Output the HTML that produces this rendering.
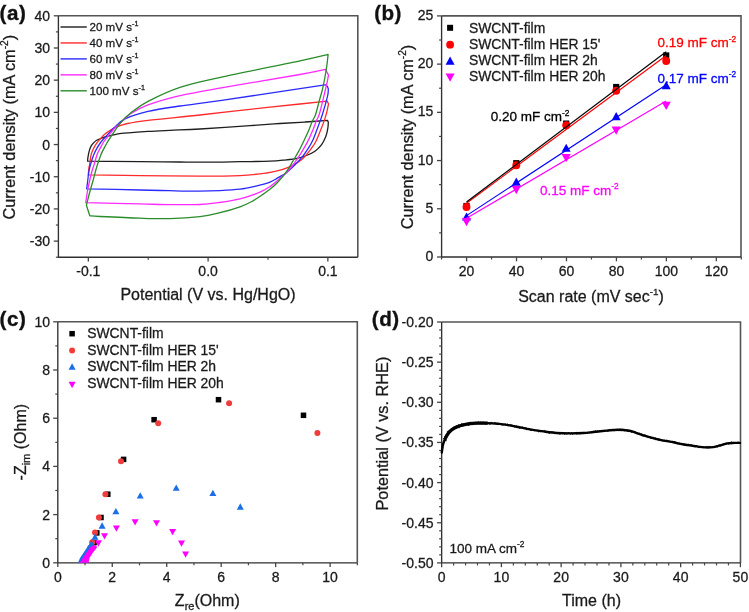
<!DOCTYPE html>
<html><head><meta charset="utf-8"><style>
html,body{margin:0;padding:0;background:#fff;overflow:hidden;}
svg{display:block;font-family:"Liberation Sans", sans-serif;will-change:transform;}
</style></head><body>
<svg width="749" height="612" viewBox="0 0 749 612">
<rect width="749" height="612" fill="#fff"/>
<text x="-0.4" y="20.2" font-size="20.6" font-weight="bold" letter-spacing="0.5" fill="#111" stroke="#111" stroke-width="0.35">(a)</text>
<path d="M58.4,15.8 H357.8 V257.2" fill="none" stroke="#555" stroke-width="1.6"/>
<path d="M58.4,15.8 V257.2 H357.8" fill="none" stroke="#303030" stroke-width="1.35"/>
<line x1="53.8" y1="15.80" x2="58.4" y2="15.80" stroke="#444444" stroke-width="1.3"/>
<line x1="53.8" y1="47.99" x2="58.4" y2="47.99" stroke="#444444" stroke-width="1.3"/>
<line x1="53.8" y1="80.17" x2="58.4" y2="80.17" stroke="#444444" stroke-width="1.3"/>
<line x1="53.8" y1="112.36" x2="58.4" y2="112.36" stroke="#444444" stroke-width="1.3"/>
<line x1="53.8" y1="144.55" x2="58.4" y2="144.55" stroke="#444444" stroke-width="1.3"/>
<line x1="53.8" y1="176.74" x2="58.4" y2="176.74" stroke="#444444" stroke-width="1.3"/>
<line x1="53.8" y1="208.92" x2="58.4" y2="208.92" stroke="#444444" stroke-width="1.3"/>
<line x1="53.8" y1="241.11" x2="58.4" y2="241.11" stroke="#444444" stroke-width="1.3"/>
<line x1="55.9" y1="31.89" x2="58.4" y2="31.89" stroke="#444444" stroke-width="1.2"/>
<line x1="55.9" y1="64.08" x2="58.4" y2="64.08" stroke="#444444" stroke-width="1.2"/>
<line x1="55.9" y1="96.27" x2="58.4" y2="96.27" stroke="#444444" stroke-width="1.2"/>
<line x1="55.9" y1="128.45" x2="58.4" y2="128.45" stroke="#444444" stroke-width="1.2"/>
<line x1="55.9" y1="160.64" x2="58.4" y2="160.64" stroke="#444444" stroke-width="1.2"/>
<line x1="55.9" y1="192.83" x2="58.4" y2="192.83" stroke="#444444" stroke-width="1.2"/>
<line x1="55.9" y1="225.02" x2="58.4" y2="225.02" stroke="#444444" stroke-width="1.2"/>
<line x1="55.9" y1="257.20" x2="58.4" y2="257.20" stroke="#444444" stroke-width="1.2"/>
<text x="50" y="20.84" font-size="14" text-anchor="end" fill="#1a1a1a" stroke="#1a1a1a" stroke-width="0.28">40</text>
<text x="50" y="53.03" font-size="14" text-anchor="end" fill="#1a1a1a" stroke="#1a1a1a" stroke-width="0.28">30</text>
<text x="50" y="85.21" font-size="14" text-anchor="end" fill="#1a1a1a" stroke="#1a1a1a" stroke-width="0.28">20</text>
<text x="50" y="117.40" font-size="14" text-anchor="end" fill="#1a1a1a" stroke="#1a1a1a" stroke-width="0.28">10</text>
<text x="50" y="149.59" font-size="14" text-anchor="end" fill="#1a1a1a" stroke="#1a1a1a" stroke-width="0.28">0</text>
<text x="50" y="181.78" font-size="14" text-anchor="end" fill="#1a1a1a" stroke="#1a1a1a" stroke-width="0.28">-10</text>
<text x="50" y="213.96" font-size="14" text-anchor="end" fill="#1a1a1a" stroke="#1a1a1a" stroke-width="0.28">-20</text>
<text x="50" y="246.15" font-size="14" text-anchor="end" fill="#1a1a1a" stroke="#1a1a1a" stroke-width="0.28">-30</text>
<line x1="88.34" y1="257.2" x2="88.34" y2="261.5" stroke="#444444" stroke-width="1.3"/>
<line x1="208.10" y1="257.2" x2="208.10" y2="261.5" stroke="#444444" stroke-width="1.3"/>
<line x1="327.86" y1="257.2" x2="327.86" y2="261.5" stroke="#444444" stroke-width="1.3"/>
<line x1="148.22" y1="257.2" x2="148.22" y2="259.7" stroke="#444444" stroke-width="1.2"/>
<line x1="267.98" y1="257.2" x2="267.98" y2="259.7" stroke="#444444" stroke-width="1.2"/>
<text x="88.34" y="275.8" font-size="14" text-anchor="middle" fill="#1a1a1a" stroke="#1a1a1a" stroke-width="0.28">-0.1</text>
<text x="208.10" y="275.8" font-size="14" text-anchor="middle" fill="#1a1a1a" stroke="#1a1a1a" stroke-width="0.28">0.0</text>
<text x="327.86" y="275.8" font-size="14" text-anchor="middle" fill="#1a1a1a" stroke="#1a1a1a" stroke-width="0.28">0.1</text>
<text transform="translate(15.2,127.2) rotate(-90)" font-size="16.3" text-anchor="middle" fill="#1a1a1a" stroke="#1a1a1a" stroke-width="0.28">Current density (mA cm<tspan font-size="10.1" dy="-6.8">-2</tspan><tspan dy="6.8">)</tspan></text>
<text x="208" y="300.1" font-size="16" text-anchor="middle" fill="#1a1a1a" stroke="#1a1a1a" stroke-width="0.28">Potential (V vs. Hg/HgO)</text>
<path d="M87.60,161.20 C87.65,160.62 87.63,159.38 87.90,157.70 C88.17,156.02 88.65,153.07 89.20,151.10 C89.75,149.13 90.43,147.32 91.20,145.90 C91.97,144.48 92.82,143.58 93.80,142.60 C94.78,141.62 95.90,140.70 97.10,140.00 C98.30,139.30 99.37,139.00 101.00,138.40 C102.63,137.80 104.83,137.00 106.90,136.40 C108.97,135.80 110.55,135.33 113.40,134.80 C116.25,134.27 118.23,133.77 124.00,133.20 C129.77,132.63 140.33,131.88 148.00,131.40 C155.67,130.92 161.33,130.70 170.00,130.30 C178.67,129.90 186.67,129.77 200.00,129.00 C213.33,128.23 236.67,126.62 250.00,125.70 C263.33,124.78 270.83,124.12 280.00,123.50 C289.17,122.88 297.08,122.52 305.00,122.00 C312.92,121.48 323.75,120.67 327.50,120.40 C327.63,120.68 328.17,121.82 328.30,122.10 C328.27,122.75 328.23,124.68 328.10,126.00 C327.97,127.32 327.88,128.23 327.50,130.00 C327.12,131.77 326.75,134.20 325.80,136.60 C324.85,139.00 323.55,142.00 321.80,144.40 C320.05,146.80 317.85,149.15 315.30,151.00 C312.75,152.85 309.72,154.22 306.50,155.50 C303.28,156.78 299.37,157.98 296.00,158.70 C292.63,159.42 290.63,159.38 286.30,159.80 C281.97,160.22 277.72,160.88 270.00,161.20 C262.28,161.52 249.00,161.53 240.00,161.70 C231.00,161.87 226.00,162.15 216.00,162.20 C206.00,162.25 192.67,162.08 180.00,162.00 C167.33,161.92 151.67,161.80 140.00,161.70 C128.33,161.60 118.73,161.48 110.00,161.40 C101.27,161.32 91.33,161.23 87.60,161.20" fill="none" stroke="#1e1e1e" stroke-width="1.3" stroke-linejoin="round" stroke-linecap="round"/>
<path d="M88.30,174.90 C88.40,173.75 88.68,169.73 88.90,168.00 C89.12,166.27 89.22,166.77 89.60,164.50 C89.98,162.23 90.50,157.17 91.20,154.40 C91.90,151.63 92.82,149.87 93.80,147.90 C94.78,145.93 95.90,144.23 97.10,142.60 C98.30,140.97 99.58,139.62 101.00,138.10 C102.42,136.58 103.35,135.22 105.60,133.50 C107.85,131.78 110.83,129.47 114.50,127.80 C118.17,126.13 122.02,124.75 127.60,123.50 C133.18,122.25 135.93,121.72 148.00,120.30 C160.07,118.88 183.00,116.83 200.00,115.00 C217.00,113.17 233.33,111.13 250.00,109.30 C266.67,107.47 287.13,105.37 300.00,104.00 C312.87,102.63 322.67,101.58 327.20,101.10 C327.42,101.60 328.28,103.60 328.50,104.10 C328.18,105.57 327.35,110.02 326.60,112.90 C325.85,115.78 324.93,118.68 324.00,121.40 C323.07,124.12 322.23,126.10 321.00,129.20 C319.77,132.30 317.88,137.25 316.60,140.00 C315.32,142.75 314.67,143.65 313.30,145.70 C311.93,147.75 310.17,150.12 308.40,152.30 C306.63,154.48 305.02,156.77 302.70,158.80 C300.38,160.83 297.23,162.93 294.50,164.50 C291.77,166.07 289.02,167.18 286.30,168.20 C283.58,169.22 281.47,169.80 278.20,170.60 C274.93,171.40 273.07,172.17 266.70,173.00 C260.33,173.83 251.12,175.07 240.00,175.60 C228.88,176.13 216.67,176.20 200.00,176.20 C183.33,176.20 158.62,175.82 140.00,175.60 C121.38,175.38 96.92,175.02 88.30,174.90" fill="none" stroke="#ff2a2a" stroke-width="1.3" stroke-linejoin="round" stroke-linecap="round"/>
<path d="M86.70,188.80 C86.88,187.33 87.45,182.80 87.80,180.00 C88.15,177.20 88.35,174.58 88.80,172.00 C89.25,169.42 89.67,167.43 90.50,164.50 C91.33,161.57 92.70,157.17 93.80,154.40 C94.90,151.63 95.90,149.97 97.10,147.90 C98.30,145.83 99.58,143.85 101.00,142.00 C102.42,140.15 103.33,139.27 105.60,136.80 C107.87,134.33 111.27,130.23 114.60,127.20 C117.93,124.17 120.03,121.23 125.60,118.60 C131.17,115.97 138.93,113.50 148.00,111.40 C157.07,109.30 168.00,107.80 180.00,106.00 C192.00,104.20 200.00,103.48 220.00,100.60 C240.00,97.72 282.42,91.32 300.00,88.70 C317.58,86.08 321.25,85.53 325.50,84.90 C325.82,85.13 326.93,85.62 327.40,86.30 C327.87,86.98 328.15,88.55 328.30,89.00 C328.25,89.83 328.35,91.93 328.00,94.00 C327.65,96.07 327.15,97.93 326.20,101.40 C325.25,104.87 323.33,111.47 322.30,114.80 C321.27,118.13 320.87,119.00 320.00,121.40 C319.13,123.80 318.28,126.10 317.10,129.20 C315.92,132.30 314.35,136.83 312.90,140.00 C311.45,143.17 310.10,145.48 308.40,148.20 C306.70,150.92 305.02,153.45 302.70,156.30 C300.38,159.15 297.23,162.57 294.50,165.30 C291.77,168.03 289.02,170.65 286.30,172.70 C283.58,174.75 280.92,176.03 278.20,177.60 C275.48,179.17 273.87,180.65 270.00,182.10 C266.13,183.55 260.00,185.12 255.00,186.30 C250.00,187.48 245.83,188.48 240.00,189.20 C234.17,189.92 226.83,190.28 220.00,190.60 C213.17,190.92 207.33,191.08 199.00,191.10 C190.67,191.12 179.83,190.88 170.00,190.70 C160.17,190.52 153.88,190.32 140.00,190.00 C126.12,189.68 95.58,189.00 86.70,188.80" fill="none" stroke="#2a2aff" stroke-width="1.3" stroke-linejoin="round" stroke-linecap="round"/>
<path d="M85.70,202.70 C86.03,200.58 87.02,193.78 87.70,190.00 C88.38,186.22 89.03,183.33 89.80,180.00 C90.57,176.67 91.55,172.67 92.30,170.00 C93.05,167.33 93.50,166.60 94.30,164.00 C95.10,161.40 96.10,157.08 97.10,154.40 C98.10,151.72 99.22,149.97 100.30,147.90 C101.38,145.83 102.40,143.85 103.60,142.00 C104.80,140.15 105.67,139.08 107.50,136.80 C109.33,134.52 112.33,130.70 114.60,128.30 C116.87,125.90 118.38,124.87 121.10,122.40 C123.82,119.93 126.42,116.42 130.90,113.50 C135.38,110.58 139.82,107.88 148.00,104.90 C156.18,101.92 167.55,98.48 180.00,95.60 C192.45,92.72 202.70,91.12 222.70,87.60 C242.70,84.08 282.87,77.53 300.00,74.50 C317.13,71.47 321.25,70.25 325.50,69.40 C326.00,70.35 328.00,74.15 328.50,75.10 C328.28,76.25 327.73,79.52 327.20,82.00 C326.67,84.48 326.07,86.77 325.30,90.00 C324.53,93.23 323.63,97.27 322.60,101.40 C321.57,105.53 320.18,111.47 319.10,114.80 C318.02,118.13 317.08,119.00 316.10,121.40 C315.12,123.80 314.62,125.83 313.20,129.20 C311.78,132.57 309.63,137.62 307.60,141.60 C305.57,145.58 303.18,149.55 301.00,153.10 C298.82,156.65 296.95,159.63 294.50,162.90 C292.05,166.17 289.02,169.85 286.30,172.70 C283.58,175.55 280.92,177.68 278.20,180.00 C275.48,182.32 273.03,184.58 270.00,186.60 C266.97,188.62 265.00,190.05 260.00,192.10 C255.00,194.15 247.00,197.13 240.00,198.90 C233.00,200.67 224.67,201.77 218.00,202.70 C211.33,203.63 208.00,204.18 200.00,204.50 C192.00,204.82 180.00,204.70 170.00,204.60 C160.00,204.50 154.05,204.22 140.00,203.90 C125.95,203.58 94.75,202.90 85.70,202.70" fill="none" stroke="#ff2aff" stroke-width="1.3" stroke-linejoin="round" stroke-linecap="round"/>
<path d="M86.40,205.30 C86.92,203.25 88.37,197.22 89.50,193.00 C90.63,188.78 92.00,184.33 93.20,180.00 C94.40,175.67 95.40,171.27 96.70,167.00 C98.00,162.73 99.73,157.58 101.00,154.40 C102.27,151.22 103.22,149.97 104.30,147.90 C105.38,145.83 106.42,143.85 107.50,142.00 C108.58,140.15 108.53,140.10 110.80,136.80 C113.07,133.50 117.75,126.22 121.10,122.20 C124.45,118.18 126.42,116.18 130.90,112.70 C135.38,109.22 139.82,105.53 148.00,101.30 C156.18,97.07 167.55,91.37 180.00,87.30 C192.45,83.23 202.70,81.32 222.70,76.90 C242.70,72.48 282.43,64.55 300.00,60.80 C317.57,57.05 323.42,55.47 328.10,54.40 C327.88,56.32 327.35,61.97 326.80,65.90 C326.25,69.83 325.55,73.98 324.80,78.00 C324.05,82.02 323.25,86.10 322.30,90.00 C321.35,93.90 320.23,97.27 319.10,101.40 C317.97,105.53 316.65,111.47 315.50,114.80 C314.35,118.13 313.25,119.00 312.20,121.40 C311.15,123.80 310.52,126.10 309.20,129.20 C307.88,132.30 306.07,136.30 304.30,140.00 C302.53,143.70 300.50,147.87 298.60,151.40 C296.70,154.93 294.95,157.78 292.90,161.20 C290.85,164.62 288.75,168.48 286.30,171.90 C283.85,175.32 280.78,178.92 278.20,181.70 C275.62,184.48 273.50,186.38 270.80,188.60 C268.10,190.82 264.90,193.00 262.00,195.00 C259.10,197.00 257.07,198.63 253.40,200.60 C249.73,202.57 245.90,204.70 240.00,206.80 C234.10,208.90 224.67,211.57 218.00,213.20 C211.33,214.83 208.00,215.70 200.00,216.60 C192.00,217.50 180.00,218.33 170.00,218.60 C160.00,218.87 151.67,218.55 140.00,218.20 C128.33,217.85 108.37,216.90 100.00,216.50 C91.63,216.10 91.50,215.92 89.80,215.80 C89.23,214.05 86.97,207.05 86.40,205.30" fill="none" stroke="#2a8c2a" stroke-width="1.3" stroke-linejoin="round" stroke-linecap="round"/>
<line x1="60.5" y1="27.00" x2="86.8" y2="27.00" stroke="#1e1e1e" stroke-width="1.4"/>
<text x="89.5" y="31.30" font-size="11.6" fill="#1a1a1a" stroke="#1a1a1a" stroke-width="0.28">20 mV s<tspan font-size="7.2" dy="-4.9">-1</tspan></text>
<line x1="60.5" y1="42.95" x2="86.8" y2="42.95" stroke="#ff2a2a" stroke-width="1.4"/>
<text x="89.5" y="47.25" font-size="11.6" fill="#1a1a1a" stroke="#1a1a1a" stroke-width="0.28">40 mV s<tspan font-size="7.2" dy="-4.9">-1</tspan></text>
<line x1="60.5" y1="58.90" x2="86.8" y2="58.90" stroke="#2a2aff" stroke-width="1.4"/>
<text x="89.5" y="63.20" font-size="11.6" fill="#1a1a1a" stroke="#1a1a1a" stroke-width="0.28">60 mV s<tspan font-size="7.2" dy="-4.9">-1</tspan></text>
<line x1="60.5" y1="74.85" x2="86.8" y2="74.85" stroke="#ff2aff" stroke-width="1.4"/>
<text x="89.5" y="79.15" font-size="11.6" fill="#1a1a1a" stroke="#1a1a1a" stroke-width="0.28">80 mV s<tspan font-size="7.2" dy="-4.9">-1</tspan></text>
<line x1="60.5" y1="90.80" x2="86.8" y2="90.80" stroke="#2a8c2a" stroke-width="1.4"/>
<text x="89.5" y="95.10" font-size="11.6" fill="#1a1a1a" stroke="#1a1a1a" stroke-width="0.28">100 mV s<tspan font-size="7.2" dy="-4.9">-1</tspan></text>
<text x="374.2" y="20.3" font-size="20.6" font-weight="bold" letter-spacing="0.5" fill="#111" stroke="#111" stroke-width="0.35">(b)</text>
<path d="M441.6,15.9 H741 V257" fill="none" stroke="#555" stroke-width="1.6"/>
<path d="M441.6,15.9 V257 H741" fill="none" stroke="#303030" stroke-width="1.35"/>
<line x1="437.0" y1="257.00" x2="441.6" y2="257.00" stroke="#444444" stroke-width="1.3"/>
<line x1="437.0" y1="208.78" x2="441.6" y2="208.78" stroke="#444444" stroke-width="1.3"/>
<line x1="437.0" y1="160.56" x2="441.6" y2="160.56" stroke="#444444" stroke-width="1.3"/>
<line x1="437.0" y1="112.34" x2="441.6" y2="112.34" stroke="#444444" stroke-width="1.3"/>
<line x1="437.0" y1="64.12" x2="441.6" y2="64.12" stroke="#444444" stroke-width="1.3"/>
<line x1="437.0" y1="15.90" x2="441.6" y2="15.90" stroke="#444444" stroke-width="1.3"/>
<line x1="439.1" y1="232.89" x2="441.6" y2="232.89" stroke="#444444" stroke-width="1.2"/>
<line x1="439.1" y1="184.67" x2="441.6" y2="184.67" stroke="#444444" stroke-width="1.2"/>
<line x1="439.1" y1="136.45" x2="441.6" y2="136.45" stroke="#444444" stroke-width="1.2"/>
<line x1="439.1" y1="88.23" x2="441.6" y2="88.23" stroke="#444444" stroke-width="1.2"/>
<line x1="439.1" y1="40.01" x2="441.6" y2="40.01" stroke="#444444" stroke-width="1.2"/>
<text x="433.3" y="261.04" font-size="14" text-anchor="end" fill="#1a1a1a" stroke="#1a1a1a" stroke-width="0.28">0</text>
<text x="433.3" y="212.82" font-size="14" text-anchor="end" fill="#1a1a1a" stroke="#1a1a1a" stroke-width="0.28">5</text>
<text x="433.3" y="164.60" font-size="14" text-anchor="end" fill="#1a1a1a" stroke="#1a1a1a" stroke-width="0.28">10</text>
<text x="433.3" y="116.38" font-size="14" text-anchor="end" fill="#1a1a1a" stroke="#1a1a1a" stroke-width="0.28">15</text>
<text x="433.3" y="68.16" font-size="14" text-anchor="end" fill="#1a1a1a" stroke="#1a1a1a" stroke-width="0.28">20</text>
<text x="433.3" y="19.94" font-size="14" text-anchor="end" fill="#1a1a1a" stroke="#1a1a1a" stroke-width="0.28">25</text>
<line x1="466.58" y1="257" x2="466.58" y2="261.3" stroke="#444444" stroke-width="1.3"/>
<line x1="516.52" y1="257" x2="516.52" y2="261.3" stroke="#444444" stroke-width="1.3"/>
<line x1="566.48" y1="257" x2="566.48" y2="261.3" stroke="#444444" stroke-width="1.3"/>
<line x1="616.43" y1="257" x2="616.43" y2="261.3" stroke="#444444" stroke-width="1.3"/>
<line x1="666.38" y1="257" x2="666.38" y2="261.3" stroke="#444444" stroke-width="1.3"/>
<line x1="716.33" y1="257" x2="716.33" y2="261.3" stroke="#444444" stroke-width="1.3"/>
<line x1="441.60" y1="257" x2="441.60" y2="259.5" stroke="#444444" stroke-width="1.2"/>
<line x1="491.55" y1="257" x2="491.55" y2="259.5" stroke="#444444" stroke-width="1.2"/>
<line x1="541.50" y1="257" x2="541.50" y2="259.5" stroke="#444444" stroke-width="1.2"/>
<line x1="591.45" y1="257" x2="591.45" y2="259.5" stroke="#444444" stroke-width="1.2"/>
<line x1="641.40" y1="257" x2="641.40" y2="259.5" stroke="#444444" stroke-width="1.2"/>
<line x1="691.35" y1="257" x2="691.35" y2="259.5" stroke="#444444" stroke-width="1.2"/>
<line x1="741.30" y1="257" x2="741.30" y2="259.5" stroke="#444444" stroke-width="1.2"/>
<text x="466.58" y="275.8" font-size="14" text-anchor="middle" fill="#1a1a1a" stroke="#1a1a1a" stroke-width="0.28">20</text>
<text x="516.52" y="275.8" font-size="14" text-anchor="middle" fill="#1a1a1a" stroke="#1a1a1a" stroke-width="0.28">40</text>
<text x="566.48" y="275.8" font-size="14" text-anchor="middle" fill="#1a1a1a" stroke="#1a1a1a" stroke-width="0.28">60</text>
<text x="616.43" y="275.8" font-size="14" text-anchor="middle" fill="#1a1a1a" stroke="#1a1a1a" stroke-width="0.28">80</text>
<text x="666.38" y="275.8" font-size="14" text-anchor="middle" fill="#1a1a1a" stroke="#1a1a1a" stroke-width="0.28">100</text>
<text x="716.33" y="275.8" font-size="14" text-anchor="middle" fill="#1a1a1a" stroke="#1a1a1a" stroke-width="0.28">120</text>
<text transform="translate(412.6,137) rotate(-90)" font-size="16.3" text-anchor="middle" fill="#1a1a1a" stroke="#1a1a1a" stroke-width="0.28">Current density (mA cm<tspan font-size="10.1" dy="-6.8">-2</tspan><tspan dy="6.8">)</tspan></text>
<text x="591" y="301.9" font-size="16" text-anchor="middle" fill="#1a1a1a" stroke="#1a1a1a" stroke-width="0.28">Scan rate (mV sec<tspan font-size="9.9" dy="-6.7">-1</tspan><tspan dy="6.7">)</tspan></text>
<rect x="463.40" y="202.90" width="6.2" height="6.2" fill="#000000"/>
<rect x="513.20" y="160.10" width="6.2" height="6.2" fill="#000000"/>
<rect x="563.10" y="120.50" width="6.2" height="6.2" fill="#000000"/>
<rect x="613.10" y="83.90" width="6.2" height="6.2" fill="#000000"/>
<rect x="663.10" y="52.40" width="6.2" height="6.2" fill="#000000"/>
<circle cx="466.50" cy="207.00" r="3.95" fill="#ff0000"/>
<circle cx="516.30" cy="165.30" r="3.95" fill="#ff0000"/>
<circle cx="566.20" cy="125.30" r="3.95" fill="#ff0000"/>
<circle cx="616.20" cy="90.70" r="3.95" fill="#ff0000"/>
<circle cx="666.20" cy="61.00" r="3.95" fill="#ff0000"/>
<polygon points="462.00,220.50 471.00,220.50 466.50,212.40" fill="#0000ff"/>
<polygon points="511.80,185.65 520.80,185.65 516.30,177.55" fill="#0000ff"/>
<polygon points="561.70,151.80 570.70,151.80 566.20,143.70" fill="#0000ff"/>
<polygon points="611.70,120.15 620.70,120.15 616.20,112.05" fill="#0000ff"/>
<polygon points="661.70,89.20 670.70,89.20 666.20,81.10" fill="#0000ff"/>
<polygon points="461.90,218.06 471.10,218.06 466.50,226.34" fill="#ff00ff"/>
<polygon points="511.70,185.86 520.90,185.86 516.30,194.14" fill="#ff00ff"/>
<polygon points="561.60,153.96 570.80,153.96 566.20,162.24" fill="#ff00ff"/>
<polygon points="611.60,126.56 620.80,126.56 616.20,134.84" fill="#ff00ff"/>
<polygon points="661.60,101.76 670.80,101.76 666.20,110.04" fill="#ff00ff"/>
<line x1="466.5" y1="218.32" x2="666.2" y2="101.10" stroke="#ff00ff" stroke-width="1.15"/>
<line x1="466.5" y1="215.64" x2="666.2" y2="84.84" stroke="#0000ff" stroke-width="1.15"/>
<line x1="466.5" y1="203.29" x2="666.2" y2="55.51" stroke="#ff0000" stroke-width="1.15"/>
<line x1="466.5" y1="202.07" x2="666.2" y2="51.69" stroke="#000000" stroke-width="1.15"/>
<rect x="447.10" y="24.80" width="6" height="6" fill="#000000"/>
<text x="468.9" y="32.6" font-size="13.9" fill="#1a1a1a" stroke="#1a1a1a" stroke-width="0.28">SWCNT-film</text>
<circle cx="450.10" cy="44.70" r="3.9" fill="#ff0000"/>
<text x="468.9" y="49.3" font-size="13.9" fill="#1a1a1a" stroke="#1a1a1a" stroke-width="0.28">SWCNT-film HER 15'</text>
<polygon points="445.60,64.65 454.60,64.65 450.10,56.55" fill="#0000ff"/>
<text x="468.9" y="64.9" font-size="13.9" fill="#1a1a1a" stroke="#1a1a1a" stroke-width="0.28">SWCNT-film HER 2h</text>
<polygon points="445.60,73.55 454.60,73.55 450.10,81.65" fill="#ff00ff"/>
<text x="468.9" y="81.4" font-size="13.9" fill="#1a1a1a" stroke="#1a1a1a" stroke-width="0.28">SWCNT-film HER 20h</text>
<text x="657.5" y="47.4" font-size="13.5" fill="#ff0000" stroke="#ff0000" stroke-width="0.28">0.19 mF cm<tspan font-size="8.4" dy="-5.7">-2</tspan></text>
<text x="657.5" y="82.6" font-size="13.5" fill="#0000ff" stroke="#0000ff" stroke-width="0.28">0.17 mF cm<tspan font-size="8.4" dy="-5.7">-2</tspan></text>
<text x="490.8" y="121.3" font-size="13.5" fill="#000" stroke="#000" stroke-width="0.28">0.20 mF cm<tspan font-size="8.4" dy="-5.7">-2</tspan></text>
<text x="540" y="194.8" font-size="13.5" fill="#ff00ff" stroke="#ff00ff" stroke-width="0.28">0.15 mF cm<tspan font-size="8.4" dy="-5.7">-2</tspan></text>
<text x="-0.4" y="326.2" font-size="20.6" font-weight="bold" letter-spacing="0.5" fill="#111" stroke="#111" stroke-width="0.35">(c)</text>
<path d="M57.8,321.75 H357.3 V562.8" fill="none" stroke="#555" stroke-width="1.6"/>
<path d="M57.8,321.75 V562.8 H357.3" fill="none" stroke="#303030" stroke-width="1.35"/>
<line x1="53.199999999999996" y1="562.80" x2="57.8" y2="562.80" stroke="#444444" stroke-width="1.3"/>
<line x1="53.199999999999996" y1="514.60" x2="57.8" y2="514.60" stroke="#444444" stroke-width="1.3"/>
<line x1="53.199999999999996" y1="466.40" x2="57.8" y2="466.40" stroke="#444444" stroke-width="1.3"/>
<line x1="53.199999999999996" y1="418.20" x2="57.8" y2="418.20" stroke="#444444" stroke-width="1.3"/>
<line x1="53.199999999999996" y1="370.00" x2="57.8" y2="370.00" stroke="#444444" stroke-width="1.3"/>
<line x1="53.199999999999996" y1="321.80" x2="57.8" y2="321.80" stroke="#444444" stroke-width="1.3"/>
<line x1="55.3" y1="538.70" x2="57.8" y2="538.70" stroke="#444444" stroke-width="1.2"/>
<line x1="55.3" y1="490.50" x2="57.8" y2="490.50" stroke="#444444" stroke-width="1.2"/>
<line x1="55.3" y1="442.30" x2="57.8" y2="442.30" stroke="#444444" stroke-width="1.2"/>
<line x1="55.3" y1="394.10" x2="57.8" y2="394.10" stroke="#444444" stroke-width="1.2"/>
<line x1="55.3" y1="345.90" x2="57.8" y2="345.90" stroke="#444444" stroke-width="1.2"/>
<text x="50" y="567.84" font-size="14" text-anchor="end" fill="#1a1a1a" stroke="#1a1a1a" stroke-width="0.28">0</text>
<text x="50" y="519.64" font-size="14" text-anchor="end" fill="#1a1a1a" stroke="#1a1a1a" stroke-width="0.28">2</text>
<text x="50" y="471.44" font-size="14" text-anchor="end" fill="#1a1a1a" stroke="#1a1a1a" stroke-width="0.28">4</text>
<text x="50" y="423.24" font-size="14" text-anchor="end" fill="#1a1a1a" stroke="#1a1a1a" stroke-width="0.28">6</text>
<text x="50" y="375.04" font-size="14" text-anchor="end" fill="#1a1a1a" stroke="#1a1a1a" stroke-width="0.28">8</text>
<text x="50" y="326.84" font-size="14" text-anchor="end" fill="#1a1a1a" stroke="#1a1a1a" stroke-width="0.28">10</text>
<line x1="57.80" y1="562.8" x2="57.80" y2="567.0999999999999" stroke="#444444" stroke-width="1.3"/>
<line x1="112.26" y1="562.8" x2="112.26" y2="567.0999999999999" stroke="#444444" stroke-width="1.3"/>
<line x1="166.72" y1="562.8" x2="166.72" y2="567.0999999999999" stroke="#444444" stroke-width="1.3"/>
<line x1="221.18" y1="562.8" x2="221.18" y2="567.0999999999999" stroke="#444444" stroke-width="1.3"/>
<line x1="275.64" y1="562.8" x2="275.64" y2="567.0999999999999" stroke="#444444" stroke-width="1.3"/>
<line x1="330.10" y1="562.8" x2="330.10" y2="567.0999999999999" stroke="#444444" stroke-width="1.3"/>
<line x1="85.03" y1="562.8" x2="85.03" y2="565.3" stroke="#444444" stroke-width="1.2"/>
<line x1="139.49" y1="562.8" x2="139.49" y2="565.3" stroke="#444444" stroke-width="1.2"/>
<line x1="193.95" y1="562.8" x2="193.95" y2="565.3" stroke="#444444" stroke-width="1.2"/>
<line x1="248.41" y1="562.8" x2="248.41" y2="565.3" stroke="#444444" stroke-width="1.2"/>
<line x1="302.87" y1="562.8" x2="302.87" y2="565.3" stroke="#444444" stroke-width="1.2"/>
<line x1="357.33" y1="562.8" x2="357.33" y2="565.3" stroke="#444444" stroke-width="1.2"/>
<text x="57.80" y="581.5" font-size="14" text-anchor="middle" fill="#1a1a1a" stroke="#1a1a1a" stroke-width="0.28">0</text>
<text x="112.26" y="581.5" font-size="14" text-anchor="middle" fill="#1a1a1a" stroke="#1a1a1a" stroke-width="0.28">2</text>
<text x="166.72" y="581.5" font-size="14" text-anchor="middle" fill="#1a1a1a" stroke="#1a1a1a" stroke-width="0.28">4</text>
<text x="221.18" y="581.5" font-size="14" text-anchor="middle" fill="#1a1a1a" stroke="#1a1a1a" stroke-width="0.28">6</text>
<text x="275.64" y="581.5" font-size="14" text-anchor="middle" fill="#1a1a1a" stroke="#1a1a1a" stroke-width="0.28">8</text>
<text x="330.10" y="581.5" font-size="14" text-anchor="middle" fill="#1a1a1a" stroke="#1a1a1a" stroke-width="0.28">10</text>
<text transform="translate(26,442.2) rotate(-90)" font-size="16" text-anchor="middle" fill="#1a1a1a" stroke="#1a1a1a" stroke-width="0.28">-Z<tspan font-size="11" dy="3.8">im</tspan><tspan dy="-3.8"> (Ohm)</tspan></text>
<text x="207.3" y="605.7" font-size="16" text-anchor="middle" fill="#1a1a1a" stroke="#1a1a1a" stroke-width="0.28">Z<tspan font-size="11" dy="4">re</tspan><tspan dy="-4">(Ohm)</tspan></text>
<rect x="300.75" y="412.55" width="5.5" height="5.5" fill="#000000"/>
<rect x="215.75" y="396.95" width="5.5" height="5.5" fill="#000000"/>
<rect x="151.35" y="416.95" width="5.5" height="5.5" fill="#000000"/>
<rect x="120.85" y="456.65" width="5.5" height="5.5" fill="#000000"/>
<rect x="105.05" y="491.45" width="5.5" height="5.5" fill="#000000"/>
<rect x="98.25" y="514.75" width="5.5" height="5.5" fill="#000000"/>
<rect x="94.05" y="530.15" width="5.5" height="5.5" fill="#000000"/>
<rect x="91.35" y="539.75" width="5.5" height="5.5" fill="#000000"/>
<circle cx="317.40" cy="432.90" r="3.0" fill="#f03c3c"/>
<circle cx="229.10" cy="403.20" r="3.0" fill="#f03c3c"/>
<circle cx="158.20" cy="423.20" r="3.0" fill="#f03c3c"/>
<circle cx="121.00" cy="461.30" r="3.0" fill="#f03c3c"/>
<circle cx="105.40" cy="494.20" r="3.0" fill="#f03c3c"/>
<circle cx="98.90" cy="517.50" r="3.0" fill="#f03c3c"/>
<circle cx="95.00" cy="532.40" r="3.0" fill="#f03c3c"/>
<circle cx="92.20" cy="542.30" r="3.0" fill="#f03c3c"/>
<circle cx="90.40" cy="547.80" r="3.0" fill="#f03c3c"/>
<polygon points="78,562.8 80,558 84,552 88,546 91,543 93,544 90,549 86,555 83,562.8" fill="#1a6ee6"/>
<polygon points="236.80,509.65 243.80,509.65 240.30,503.35" fill="#1a6ee6"/>
<polygon points="209.40,496.05 216.40,496.05 212.90,489.75" fill="#1a6ee6"/>
<polygon points="172.70,490.75 179.70,490.75 176.20,484.45" fill="#1a6ee6"/>
<polygon points="136.70,498.45 143.70,498.45 140.20,492.15" fill="#1a6ee6"/>
<polygon points="112.40,514.25 119.40,514.25 115.90,507.95" fill="#1a6ee6"/>
<polygon points="98.60,528.65 105.60,528.65 102.10,522.35" fill="#1a6ee6"/>
<polygon points="91.50,539.75 98.50,539.75 95.00,533.45" fill="#1a6ee6"/>
<polygon points="88.00,546.65 95.00,546.65 91.50,540.35" fill="#1a6ee6"/>
<polygon points="79.6,562.8 83.5,557 87.5,551 91.5,546 96,545 97,547.5 93,552.5 89.5,558 88.6,562.8" fill="#ff00ff"/>
<polygon points="182.10,551.45 189.10,551.45 185.60,557.75" fill="#ff00ff"/>
<polygon points="178.00,540.45 185.00,540.45 181.50,546.75" fill="#ff00ff"/>
<polygon points="169.10,529.05 176.10,529.05 172.60,535.35" fill="#ff00ff"/>
<polygon points="153.00,520.25 160.00,520.25 156.50,526.55" fill="#ff00ff"/>
<polygon points="131.60,519.15 138.60,519.15 135.10,525.45" fill="#ff00ff"/>
<polygon points="112.90,525.45 119.90,525.45 116.40,531.75" fill="#ff00ff"/>
<polygon points="101.00,533.15 108.00,533.15 104.50,539.45" fill="#ff00ff"/>
<polygon points="94.90,540.35 101.90,540.35 98.40,546.65" fill="#ff00ff"/>
<rect x="69.35" y="330.95" width="5.5" height="5.5" fill="#000000"/>
<text x="87.2" y="337.8" font-size="13.9" fill="#1a1a1a" stroke="#1a1a1a" stroke-width="0.28">SWCNT-film</text>
<circle cx="72.10" cy="350.50" r="3.0" fill="#f03c3c"/>
<text x="87.2" y="354.8" font-size="13.9" fill="#1a1a1a" stroke="#1a1a1a" stroke-width="0.28">SWCNT-film HER 15'</text>
<polygon points="68.60,369.65 75.60,369.65 72.10,363.35" fill="#1a6ee6"/>
<text x="87.2" y="370.8" font-size="13.9" fill="#1a1a1a" stroke="#1a1a1a" stroke-width="0.28">SWCNT-film HER 2h</text>
<polygon points="68.60,381.85 75.60,381.85 72.10,388.15" fill="#ff00ff"/>
<text x="87.2" y="387.6" font-size="13.9" fill="#1a1a1a" stroke="#1a1a1a" stroke-width="0.28">SWCNT-film HER 20h</text>
<text x="371.8" y="326.2" font-size="20.6" font-weight="bold" letter-spacing="0.5" fill="#111" stroke="#111" stroke-width="0.35">(d)</text>
<path d="M441.65,322 H740.5 V562.9" fill="none" stroke="#555" stroke-width="1.6"/>
<path d="M441.65,322 V562.9 H740.5" fill="none" stroke="#303030" stroke-width="1.35"/>
<line x1="437.04999999999995" y1="322.00" x2="441.65" y2="322.00" stroke="#444444" stroke-width="1.3"/>
<line x1="437.04999999999995" y1="362.15" x2="441.65" y2="362.15" stroke="#444444" stroke-width="1.3"/>
<line x1="437.04999999999995" y1="402.30" x2="441.65" y2="402.30" stroke="#444444" stroke-width="1.3"/>
<line x1="437.04999999999995" y1="442.45" x2="441.65" y2="442.45" stroke="#444444" stroke-width="1.3"/>
<line x1="437.04999999999995" y1="482.60" x2="441.65" y2="482.60" stroke="#444444" stroke-width="1.3"/>
<line x1="437.04999999999995" y1="522.75" x2="441.65" y2="522.75" stroke="#444444" stroke-width="1.3"/>
<line x1="437.04999999999995" y1="562.90" x2="441.65" y2="562.90" stroke="#444444" stroke-width="1.3"/>
<line x1="439.15" y1="330.03" x2="441.65" y2="330.03" stroke="#444444" stroke-width="1.2"/>
<line x1="439.15" y1="338.06" x2="441.65" y2="338.06" stroke="#444444" stroke-width="1.2"/>
<line x1="439.15" y1="346.09" x2="441.65" y2="346.09" stroke="#444444" stroke-width="1.2"/>
<line x1="439.15" y1="354.12" x2="441.65" y2="354.12" stroke="#444444" stroke-width="1.2"/>
<line x1="439.15" y1="370.18" x2="441.65" y2="370.18" stroke="#444444" stroke-width="1.2"/>
<line x1="439.15" y1="378.21" x2="441.65" y2="378.21" stroke="#444444" stroke-width="1.2"/>
<line x1="439.15" y1="386.24" x2="441.65" y2="386.24" stroke="#444444" stroke-width="1.2"/>
<line x1="439.15" y1="394.27" x2="441.65" y2="394.27" stroke="#444444" stroke-width="1.2"/>
<line x1="439.15" y1="410.33" x2="441.65" y2="410.33" stroke="#444444" stroke-width="1.2"/>
<line x1="439.15" y1="418.36" x2="441.65" y2="418.36" stroke="#444444" stroke-width="1.2"/>
<line x1="439.15" y1="426.39" x2="441.65" y2="426.39" stroke="#444444" stroke-width="1.2"/>
<line x1="439.15" y1="434.42" x2="441.65" y2="434.42" stroke="#444444" stroke-width="1.2"/>
<line x1="439.15" y1="450.48" x2="441.65" y2="450.48" stroke="#444444" stroke-width="1.2"/>
<line x1="439.15" y1="458.51" x2="441.65" y2="458.51" stroke="#444444" stroke-width="1.2"/>
<line x1="439.15" y1="466.54" x2="441.65" y2="466.54" stroke="#444444" stroke-width="1.2"/>
<line x1="439.15" y1="474.57" x2="441.65" y2="474.57" stroke="#444444" stroke-width="1.2"/>
<line x1="439.15" y1="490.63" x2="441.65" y2="490.63" stroke="#444444" stroke-width="1.2"/>
<line x1="439.15" y1="498.66" x2="441.65" y2="498.66" stroke="#444444" stroke-width="1.2"/>
<line x1="439.15" y1="506.69" x2="441.65" y2="506.69" stroke="#444444" stroke-width="1.2"/>
<line x1="439.15" y1="514.72" x2="441.65" y2="514.72" stroke="#444444" stroke-width="1.2"/>
<line x1="439.15" y1="530.78" x2="441.65" y2="530.78" stroke="#444444" stroke-width="1.2"/>
<line x1="439.15" y1="538.81" x2="441.65" y2="538.81" stroke="#444444" stroke-width="1.2"/>
<line x1="439.15" y1="546.84" x2="441.65" y2="546.84" stroke="#444444" stroke-width="1.2"/>
<line x1="439.15" y1="554.87" x2="441.65" y2="554.87" stroke="#444444" stroke-width="1.2"/>
<text x="433.5" y="327.04" font-size="14" text-anchor="end" fill="#1a1a1a" stroke="#1a1a1a" stroke-width="0.28">-0.20</text>
<text x="433.5" y="367.19" font-size="14" text-anchor="end" fill="#1a1a1a" stroke="#1a1a1a" stroke-width="0.28">-0.25</text>
<text x="433.5" y="407.34" font-size="14" text-anchor="end" fill="#1a1a1a" stroke="#1a1a1a" stroke-width="0.28">-0.30</text>
<text x="433.5" y="447.49" font-size="14" text-anchor="end" fill="#1a1a1a" stroke="#1a1a1a" stroke-width="0.28">-0.35</text>
<text x="433.5" y="487.64" font-size="14" text-anchor="end" fill="#1a1a1a" stroke="#1a1a1a" stroke-width="0.28">-0.40</text>
<text x="433.5" y="527.79" font-size="14" text-anchor="end" fill="#1a1a1a" stroke="#1a1a1a" stroke-width="0.28">-0.45</text>
<text x="433.5" y="567.94" font-size="14" text-anchor="end" fill="#1a1a1a" stroke="#1a1a1a" stroke-width="0.28">-0.50</text>
<line x1="441.65" y1="562.9" x2="441.65" y2="567.1999999999999" stroke="#444444" stroke-width="1.3"/>
<line x1="501.40" y1="562.9" x2="501.40" y2="567.1999999999999" stroke="#444444" stroke-width="1.3"/>
<line x1="561.15" y1="562.9" x2="561.15" y2="567.1999999999999" stroke="#444444" stroke-width="1.3"/>
<line x1="620.90" y1="562.9" x2="620.90" y2="567.1999999999999" stroke="#444444" stroke-width="1.3"/>
<line x1="680.65" y1="562.9" x2="680.65" y2="567.1999999999999" stroke="#444444" stroke-width="1.3"/>
<line x1="740.40" y1="562.9" x2="740.40" y2="567.1999999999999" stroke="#444444" stroke-width="1.3"/>
<line x1="453.60" y1="562.9" x2="453.60" y2="565.4" stroke="#444444" stroke-width="1.2"/>
<line x1="465.55" y1="562.9" x2="465.55" y2="565.4" stroke="#444444" stroke-width="1.2"/>
<line x1="477.50" y1="562.9" x2="477.50" y2="565.4" stroke="#444444" stroke-width="1.2"/>
<line x1="489.45" y1="562.9" x2="489.45" y2="565.4" stroke="#444444" stroke-width="1.2"/>
<line x1="513.35" y1="562.9" x2="513.35" y2="565.4" stroke="#444444" stroke-width="1.2"/>
<line x1="525.30" y1="562.9" x2="525.30" y2="565.4" stroke="#444444" stroke-width="1.2"/>
<line x1="537.25" y1="562.9" x2="537.25" y2="565.4" stroke="#444444" stroke-width="1.2"/>
<line x1="549.20" y1="562.9" x2="549.20" y2="565.4" stroke="#444444" stroke-width="1.2"/>
<line x1="573.10" y1="562.9" x2="573.10" y2="565.4" stroke="#444444" stroke-width="1.2"/>
<line x1="585.05" y1="562.9" x2="585.05" y2="565.4" stroke="#444444" stroke-width="1.2"/>
<line x1="597.00" y1="562.9" x2="597.00" y2="565.4" stroke="#444444" stroke-width="1.2"/>
<line x1="608.95" y1="562.9" x2="608.95" y2="565.4" stroke="#444444" stroke-width="1.2"/>
<line x1="632.85" y1="562.9" x2="632.85" y2="565.4" stroke="#444444" stroke-width="1.2"/>
<line x1="644.80" y1="562.9" x2="644.80" y2="565.4" stroke="#444444" stroke-width="1.2"/>
<line x1="656.75" y1="562.9" x2="656.75" y2="565.4" stroke="#444444" stroke-width="1.2"/>
<line x1="668.70" y1="562.9" x2="668.70" y2="565.4" stroke="#444444" stroke-width="1.2"/>
<line x1="692.60" y1="562.9" x2="692.60" y2="565.4" stroke="#444444" stroke-width="1.2"/>
<line x1="704.55" y1="562.9" x2="704.55" y2="565.4" stroke="#444444" stroke-width="1.2"/>
<line x1="716.50" y1="562.9" x2="716.50" y2="565.4" stroke="#444444" stroke-width="1.2"/>
<line x1="728.45" y1="562.9" x2="728.45" y2="565.4" stroke="#444444" stroke-width="1.2"/>
<text x="441.65" y="582.3" font-size="14" text-anchor="middle" fill="#1a1a1a" stroke="#1a1a1a" stroke-width="0.28">0</text>
<text x="501.40" y="582.3" font-size="14" text-anchor="middle" fill="#1a1a1a" stroke="#1a1a1a" stroke-width="0.28">10</text>
<text x="561.15" y="582.3" font-size="14" text-anchor="middle" fill="#1a1a1a" stroke="#1a1a1a" stroke-width="0.28">20</text>
<text x="620.90" y="582.3" font-size="14" text-anchor="middle" fill="#1a1a1a" stroke="#1a1a1a" stroke-width="0.28">30</text>
<text x="680.65" y="582.3" font-size="14" text-anchor="middle" fill="#1a1a1a" stroke="#1a1a1a" stroke-width="0.28">40</text>
<text x="740.40" y="582.3" font-size="14" text-anchor="middle" fill="#1a1a1a" stroke="#1a1a1a" stroke-width="0.28">50</text>
<text transform="translate(388.1,433.6) rotate(-90)" font-size="16.3" text-anchor="middle" fill="#1a1a1a" stroke="#1a1a1a" stroke-width="0.28">Potential (V vs. RHE)</text>
<text x="591.5" y="606" font-size="16" text-anchor="middle" fill="#1a1a1a" stroke="#1a1a1a" stroke-width="0.28">Time (h)</text>
<text x="449.5" y="552.6" font-size="13.5" fill="#1a1a1a" stroke="#1a1a1a" stroke-width="0.28">100 mA cm<tspan font-size="8.4" dy="-5.7">-2</tspan></text>
<path d="M441.80,452.50 C441.92,451.67 442.25,449.00 442.50,447.50 C442.75,446.00 442.75,445.17 443.30,443.50 C443.85,441.83 444.85,439.35 445.80,437.50 C446.75,435.65 447.57,433.98 449.00,432.40 C450.43,430.82 452.42,429.15 454.40,428.00 C456.38,426.85 458.58,426.18 460.90,425.50 C463.22,424.82 465.58,424.30 468.30,423.90 C471.02,423.50 474.07,423.23 477.20,423.10 C480.33,422.97 483.63,422.98 487.10,423.10 C490.57,423.22 495.28,423.58 498.00,423.80 C500.72,424.02 500.28,423.92 503.40,424.40 C506.52,424.88 512.27,425.87 516.70,426.70 C521.13,427.53 525.55,428.62 530.00,429.40 C534.45,430.18 538.93,430.80 543.40,431.40 C547.87,432.00 552.35,432.67 556.80,433.00 C561.25,433.33 565.65,433.40 570.10,433.40 C574.55,433.40 579.62,433.23 583.50,433.00 C587.38,432.77 589.53,432.40 593.40,432.00 C597.27,431.60 602.70,430.98 606.70,430.60 C610.70,430.22 613.62,429.68 617.40,429.70 C621.18,429.72 626.28,430.17 629.40,430.70 C632.52,431.23 633.20,431.95 636.10,432.90 C639.00,433.85 642.80,435.23 646.80,436.40 C650.80,437.57 655.65,438.92 660.10,439.90 C664.55,440.88 669.73,441.57 673.50,442.30 C677.27,443.03 679.27,443.68 682.70,444.30 C686.13,444.92 690.32,445.48 694.10,446.00 C697.88,446.52 702.20,447.22 705.40,447.40 C708.60,447.58 710.83,447.43 713.30,447.10 C715.77,446.77 717.92,446.02 720.20,445.40 C722.48,444.78 724.73,443.82 727.00,443.40 C729.27,442.98 731.63,442.98 733.80,442.90 C735.97,442.82 738.97,442.90 740.00,442.90" fill="none" stroke="#000" stroke-width="2.4" stroke-linecap="round"/>
<path d="M441.80,452.50 L441.74,451.89 L441.68,451.30 L442.16,450.69 L441.78,450.06 L442.23,449.53 L442.17,448.92 L442.01,448.33 L442.47,447.73 L442.19,447.12 L442.59,446.56 L442.38,445.96 L442.50,445.32 L442.87,444.80 L443.34,444.27 L442.97,443.53 L443.27,442.90 L443.78,442.45 L444.24,441.95 L444.20,441.22 L444.32,440.54 L446.42,440.68 L443.29,438.56 L446.53,439.28 L444.76,437.70 L444.53,436.86 L444.72,436.25 L445.68,436.06 L447.75,436.48 L445.81,434.74 L447.50,435.02 L448.00,434.65 L447.44,433.56 L448.36,433.48 L447.24,431.77 L447.69,431.22 L448.60,431.11 L450.43,431.96 L450.23,430.76 L450.46,429.94 L451.71,430.30 L451.94,429.44 L452.16,428.51 L453.88,429.72 L454.23,429.03 L453.89,427.11 L455.14,427.93 L455.66,427.46 L456.83,428.46 L457.21,427.67 L457.23,425.78 L458.80,428.16 L458.38,424.67 L459.43,425.60 L460.50,426.69 L460.51,424.16 L461.58,425.26 L461.83,423.33 L463.17,425.58 L463.79,425.83 L464.15,424.96 L464.95,426.02 L465.04,423.71 L465.90,425.10 L466.39,424.59 L466.96,424.44 L467.47,423.85 L468.30,425.27 L468.96,425.60 L469.32,423.65 L470.05,424.33 L470.41,421.85 L471.35,424.33 L471.98,424.05 L472.72,424.78 L473.34,424.24 L473.91,422.69 L474.62,422.92 L475.36,423.67 L475.96,421.82 L476.73,423.01 L477.40,422.16 L478.11,421.99 L478.83,421.81 L479.60,423.78 L480.29,421.98 L481.04,422.30 L481.78,422.70 L482.52,424.05 L483.28,421.84 L484.03,422.88 L484.78,423.18 L485.52,424.13 L486.30,423.97 L487.06,424.12 L487.92,422.51 L488.46,422.92 L489.04,422.79 L489.53,424.29 L490.10,424.52 L490.82,422.30 L491.41,422.41 L492.00,422.60 L492.59,422.65 L493.13,423.39 L493.68,423.72 L494.32,422.85 L494.93,422.17 L495.66,423.39 L496.44,423.31 L497.11,423.92 L497.69,425.05 L498.34,424.36 L499.03,423.92 L499.64,424.25 L500.24,424.36 L500.95,423.06 L501.38,424.99 L501.96,424.80 L502.63,425.12 L503.30,425.05 L504.18,424.28 L505.00,424.43 L505.70,423.88 L506.12,425.14 L506.97,424.00 L507.63,424.12 L508.26,424.55 L508.97,424.56 L509.62,425.07 L510.44,424.57 L511.19,424.59 L511.86,425.04 L512.61,425.06 L513.24,425.76 L514.10,425.16 L514.48,427.13 L515.29,426.69 L516.17,425.81 L516.80,426.16 L517.43,426.50 L518.09,426.66 L518.86,426.28 L519.20,427.98 L519.80,428.43 L520.70,427.43 L521.36,427.61 L522.21,426.89 L522.86,427.07 L523.42,427.73 L524.12,427.70 L524.52,429.06 L525.49,427.76 L526.21,427.60 L526.47,429.74 L527.32,428.96 L528.15,428.27 L528.65,429.25 L529.52,428.26 L529.99,429.46 L530.49,430.55 L531.20,430.42 L531.93,430.17 L532.76,429.33 L533.39,429.67 L534.13,429.34 L534.59,430.76 L535.34,430.34 L535.93,430.98 L536.75,430.10 L537.45,429.96 L537.94,431.34 L538.56,431.81 L539.27,431.62 L539.96,431.61 L540.62,431.73 L541.32,431.65 L542.14,430.62 L542.72,431.35 L543.44,431.09 L544.21,430.46 L544.88,430.55 L545.48,431.19 L546.15,431.24 L546.70,432.28 L547.29,432.94 L548.11,431.92 L548.64,433.08 L549.30,433.28 L549.98,433.29 L550.81,432.09 L551.52,431.85 L552.19,431.95 L552.86,431.96 L553.53,432.05 L554.10,433.03 L554.71,433.71 L555.40,433.64 L556.14,432.90 L556.77,433.34 L557.42,433.71 L558.19,432.18 L558.78,433.49 L559.42,434.07 L560.10,433.82 L560.77,433.78 L561.46,433.21 L562.15,432.58 L562.77,433.94 L563.46,432.96 L564.10,434.00 L564.76,434.39 L565.45,433.14 L566.11,433.16 L566.76,434.37 L567.43,433.88 L568.10,432.67 L568.77,432.58 L569.43,432.63 L570.10,434.29 L570.77,434.07 L571.45,432.62 L572.15,434.11 L572.84,434.44 L573.53,433.72 L574.22,433.03 L574.92,433.45 L575.60,432.51 L576.29,432.24 L577.04,434.32 L577.71,433.59 L578.39,433.30 L579.10,434.17 L579.73,433.04 L580.43,433.98 L581.08,433.85 L581.65,432.47 L582.27,432.52 L582.88,432.58 L583.47,432.43 L584.08,433.15 L584.84,432.38 L585.63,432.67 L586.31,431.97 L587.18,433.61 L587.74,432.32 L588.45,432.47 L589.16,432.67 L589.93,433.29 L590.51,432.15 L591.36,433.15 L592.02,432.15 L592.84,432.13 L593.41,432.05 L593.88,430.89 L594.59,431.74 L595.16,431.11 L595.77,430.65 L596.62,432.32 L597.14,430.88 L597.90,431.46 L598.65,431.94 L599.31,431.49 L599.96,430.91 L600.71,431.26 L601.42,431.26 L602.17,431.69 L602.70,430.13 L603.49,431.06 L604.10,430.30 L604.76,430.30 L605.52,431.32 L606.09,430.68 L606.71,430.74 L607.35,431.11 L607.97,431.38 L608.42,430.30 L609.01,430.60 L609.80,430.28 L610.59,430.20 L611.41,430.51 L612.12,429.90 L612.90,430.00 L613.66,429.81 L614.50,430.77 L615.24,430.19 L616.04,430.55 L616.85,430.67 L617.40,429.17 L617.97,429.84 L618.55,430.69 L619.15,430.48 L619.84,428.96 L620.47,428.96 L621.08,429.70 L621.78,428.92 L622.40,429.34 L623.08,429.02 L623.62,430.38 L624.23,430.68 L624.83,430.99 L625.62,429.43 L626.10,430.72 L626.70,430.67 L627.42,429.61 L627.76,431.30 L628.51,431.60 L629.51,430.09 L629.87,431.80 L630.71,430.73 L631.19,431.06 L631.50,432.31 L632.16,432.17 L633.24,431.01 L633.58,431.79 L634.10,432.20 L634.88,432.09 L635.52,431.99 L636.01,432.45 L636.39,433.51 L637.57,432.27 L637.90,433.63 L638.72,433.64 L639.79,433.03 L640.09,433.86 L640.41,434.64 L641.03,434.59 L641.89,433.84 L641.81,435.95 L642.51,435.73 L642.95,436.30 L644.11,434.67 L644.58,435.19 L645.32,434.90 L645.43,436.63 L646.35,435.74 L647.03,435.62 L647.45,436.41 L647.77,437.62 L648.46,437.61 L649.44,436.61 L650.15,436.56 L650.35,438.37 L651.22,437.82 L651.81,438.28 L652.84,437.16 L653.53,437.28 L653.86,438.80 L654.69,438.42 L655.57,437.85 L655.79,439.87 L656.64,439.39 L657.24,439.92 L658.29,438.54 L658.58,440.36 L659.64,438.82 L659.93,440.68 L660.79,439.95 L661.53,439.84 L662.12,440.44 L662.67,441.38 L663.63,440.08 L664.39,439.91 L664.94,440.90 L665.75,440.39 L666.50,440.23 L667.18,440.46 L667.91,440.33 L668.54,440.77 L669.18,441.13 L669.86,441.22 L670.35,442.32 L671.17,441.41 L671.72,441.97 L672.46,441.38 L672.99,441.86 L673.70,441.26 L674.16,441.87 L675.06,441.53 L675.46,443.23 L676.25,443.00 L677.10,442.38 L677.60,443.14 L678.01,444.27 L679.05,442.65 L679.33,444.32 L680.16,443.64 L680.79,443.91 L681.33,444.79 L682.24,443.98 L682.96,444.36 L683.68,444.89 L684.39,445.67 L685.17,444.37 L685.57,445.52 L686.18,445.33 L686.77,445.27 L687.43,444.85 L688.03,444.81 L688.70,444.26 L689.26,444.51 L689.87,444.46 L690.25,446.01 L690.99,445.03 L691.60,444.91 L692.21,444.82 L692.56,446.55 L693.13,446.69 L693.76,446.33 L694.45,445.56 L695.04,445.56 L695.60,445.75 L696.14,446.20 L696.82,445.62 L697.32,446.34 L697.97,446.02 L698.35,447.63 L698.94,447.73 L699.66,446.89 L700.33,446.31 L700.71,447.96 L701.47,446.60 L702.02,446.77 L702.66,446.06 L703.12,446.95 L703.90,447.23 L704.66,447.36 L705.44,446.74 L706.10,447.45 L706.81,446.37 L707.43,446.96 L708.05,446.58 L708.65,447.25 L709.21,446.45 L709.76,446.39 L710.35,446.97 L710.88,446.78 L711.68,447.48 L712.39,447.28 L713.00,447.70 L713.53,447.42 L714.11,447.46 L714.91,447.67 L715.39,446.47 L716.04,446.16 L717.10,447.39 L717.29,445.43 L718.31,446.45 L718.93,446.08 L719.25,444.62 L720.40,446.11 L721.13,446.03 L721.65,445.26 L722.41,445.26 L723.14,445.20 L723.36,443.57 L724.30,444.16 L724.97,443.91 L725.83,444.42 L726.47,444.19 L727.13,444.11 L727.71,443.47 L728.47,444.05 L729.10,443.52 L729.78,443.49 L730.40,442.43 L731.08,441.96 L731.78,442.16 L732.47,442.64 L733.12,442.05 L733.82,443.64 L734.48,443.01 L735.18,443.15 L735.90,443.14 L736.62,443.26 L737.33,442.85 L738.01,441.78 L738.61,443.54 L739.16,443.44 L739.74,442.90" fill="none" stroke="#000" stroke-width="1.0" stroke-linejoin="miter"/>
<path d="M445.80,437.50 C446.33,436.65 447.57,433.98 449.00,432.40 C450.43,430.82 452.42,429.15 454.40,428.00 C456.38,426.85 458.58,426.18 460.90,425.50 C463.22,424.82 465.58,424.30 468.30,423.90 C471.02,423.50 474.07,423.23 477.20,423.10 C480.33,422.97 485.45,423.10 487.10,423.10" fill="none" stroke="#000" stroke-width="3.3" stroke-linecap="round"/>
</svg>
</body></html>
